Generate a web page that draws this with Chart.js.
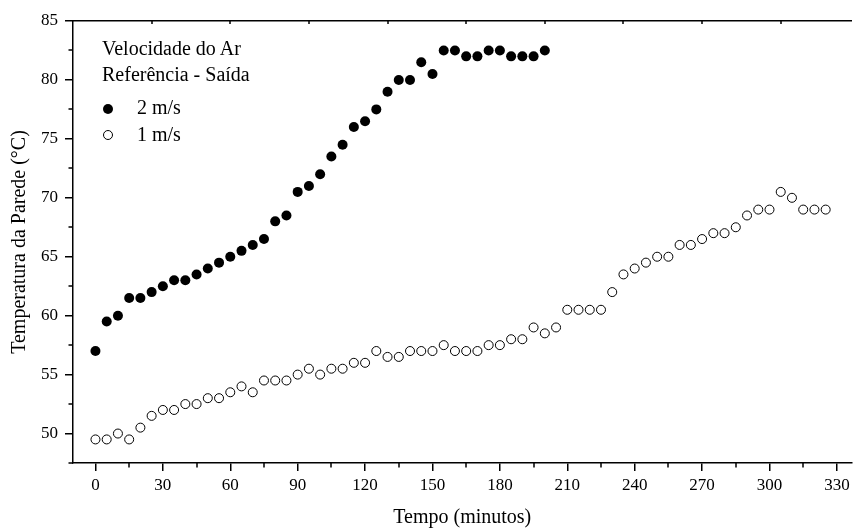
<!DOCTYPE html>
<html>
<head>
<meta charset="utf-8">
<script src="https://cdn.jsdelivr.net/npm/chart.js@4.4.1/dist/chart.umd.min.js"></script>
<style>
  html, body { margin: 0; padding: 0; background: #fff; overflow: hidden; }
  .wrap { position: relative; width: 857px; height: 528px; }
  .legend { position: absolute; left: 0; top: 0; font-family: 'Liberation Serif', 'Times New Roman', serif; font-size: 20px; line-height: 20px; color: #000; }
  .legend div { position: absolute; white-space: nowrap; }
  .dot { width: 9px; height: 9px; border-radius: 50%; box-sizing: border-box; }
</style>
</head>
<body>
<div class="wrap">
  <canvas id="chart" width="857" height="528"></canvas>
  <div class="legend" id="legend"></div>
</div>
<script>
// tempos (min) e temperaturas da parede (°C)
const time2 = [0, 5, 10, 15, 20, 25, 30, 35, 40, 45, 50, 55, 60, 65, 70, 75, 80, 85, 90, 95,
  100, 105, 110, 115, 120, 125, 130, 135, 140, 145, 150, 155, 160, 165, 170, 175, 180, 185, 190, 195, 200]
const temp2 = [57.0, 59.5, 60.0, 61.5, 61.5, 62.0, 62.5, 63.0, 63.0, 63.5, 64.0, 64.5, 65.0, 65.5, 66.0, 66.5, 68.0, 68.5, 70.5, 71.0,
  72.0, 73.5, 74.5, 76.0, 76.5, 77.5, 79.0, 80.0, 80.0, 81.5, 80.5, 82.5, 82.5, 82.0, 82.0, 82.5, 82.5, 82.0, 82.0, 82.0, 82.5]

const time1 = [0, 5, 10, 15, 20, 25, 30, 35, 40, 45, 50, 55, 60, 65, 70, 75, 80, 85, 90, 95,
  100, 105, 110, 115, 120, 125, 130, 135, 140, 145, 150, 155, 160, 165, 170, 175, 180, 185, 190, 195,
  200, 205, 210, 215, 220, 225, 230, 235, 240, 245, 250, 255, 260, 265, 270, 275, 280, 285, 290, 295,
  300, 305, 310, 315, 320, 325]
const temp1 = [49.5, 49.5, 50.0, 49.5, 50.5, 51.5, 52.0, 52.0, 52.5, 52.5, 53.0, 53.0, 53.5, 54.0, 53.5, 54.5, 54.5, 54.5, 55.0, 55.5,
  55.0, 55.5, 55.5, 56.0, 56.0, 57.0, 56.5, 56.5, 57.0, 57.0, 57.0, 57.5, 57.0, 57.0, 57.0, 57.5, 57.5, 58.0, 58.0, 59.0,
  58.5, 59.0, 60.5, 60.5, 60.5, 60.5, 62.0, 63.5, 64.0, 64.5, 65.0, 65.0, 66.0, 66.0, 66.5, 67.0, 67.0, 67.5, 68.5, 69.0,
  69.0, 70.5, 70.0, 69.0, 69.0, 69.0]

const xMinorTicks = [15, 45, 75, 105, 135, 165, 195, 225, 255, 285, 315]
const yMinorTicks = [47.5, 52.5, 57.5, 62.5, 67.5, 72.5, 77.5, 82.5]
const topTicks = [25, 60, 95, 130, 165, 200, 235, 270, 305]

const legendTitle = ['Velocidade do Ar', 'Referência - Saída']
const seriesLabels = ['2 m/s', '1 m/s']

const FONT = "'Liberation Serif', 'Times New Roman', serif"
const X_MIN = -10
const X_MAX = 336.5

// short ticks between the labelled ones, plus the inner ticks on the top edge
const minorTicks = {
  id: 'minorTicks',
  afterDraw(chart) {
    const { ctx, chartArea, scales } = chart
    ctx.save()
    ctx.strokeStyle = '#000'
    ctx.lineWidth = 1.5
    ctx.beginPath()
    xMinorTicks.forEach(v => {
      const px = Math.round(scales.x.getPixelForValue(v))
      ctx.moveTo(px, chartArea.bottom)
      ctx.lineTo(px, chartArea.bottom + 4.5)
    })
    yMinorTicks.forEach(v => {
      const py = Math.round(scales.y.getPixelForValue(v))
      ctx.moveTo(chartArea.left, py)
      ctx.lineTo(chartArea.left - 4.5, py)
    })
    topTicks.forEach(v => {
      const px = Math.round(scales.x.getPixelForValue(v))
      ctx.moveTo(px, chartArea.top)
      ctx.lineTo(px, chartArea.top + 3)
    })
    ctx.stroke()
    ctx.restore()
  }
}

const axisCommon = {
  border: { color: '#000', width: 1.5 },
  grid: { drawOnChartArea: false, drawTicks: true, tickLength: 8, color: '#000', lineWidth: 1.5 }
}

new Chart(document.getElementById('chart'), {
  type: 'scatter',
  data: {
    datasets: [
      {
        label: seriesLabels[0],
        data: time2.map((t, i) => ({ x: t, y: temp2[i] })),
        pointRadius: 5,
        pointBackgroundColor: '#000',
        pointBorderWidth: 0,
        showLine: false
      },
      {
        label: seriesLabels[1],
        data: time1.map((t, i) => ({ x: t, y: temp1[i] })),
        pointRadius: 4.5,
        pointBackgroundColor: '#fff',
        pointBorderColor: '#000',
        pointBorderWidth: 1,
        showLine: false
      }
    ]
  },
  options: {
    responsive: false,
    animation: false,
    devicePixelRatio: 1,
    layout: { padding: 0 },
    plugins: {
      legend: { display: false },
      tooltip: { enabled: false }
    },
    scales: {
      x: {
        type: 'linear',
        position: 'bottom',
        min: X_MIN,
        max: X_MAX,
        ...axisCommon,
        ticks: {
          stepSize: 30,
          includeBounds: false,
          color: '#000',
          padding: 4,
          maxRotation: 0,
          autoSkip: false,
          font: { family: FONT, size: 17 }
        },
        title: {
          display: true,
          text: 'Tempo (minutos)',
          color: '#000',
          font: { family: FONT, size: 20, lineHeight: 1 },
          padding: { top: 0, bottom: 0 }
        },
        afterFit(scale) { scale.height = 65 }
      },
      x2: {
        type: 'linear',
        position: 'top',
        min: X_MIN,
        max: X_MAX,
        border: { color: '#000', width: 1.5 },
        grid: { display: false },
        ticks: { display: false },
        afterFit(scale) { scale.height = 21 }
      },
      y: {
        type: 'linear',
        position: 'left',
        min: 47.5,
        max: 85,
        ...axisCommon,
        ticks: {
          stepSize: 5,
          includeBounds: false,
          color: '#000',
          padding: 7,
          font: { family: FONT, size: 17 }
        },
        title: {
          display: true,
          text: 'Temperatura da Parede (°C)',
          color: '#000',
          font: { family: FONT, size: 20, lineHeight: 1 },
          padding: { top: 10, bottom: 0 }
        },
        afterFit(scale) { scale.width = 73 }
      }
    }
  },
  plugins: [minorTicks]
})

// legend block inside the plot, top left
const legend = document.getElementById('legend')
const addLine = (text, left, top) => {
  const el = document.createElement('div')
  el.textContent = text
  el.style.left = left + 'px'
  el.style.top = top + 'px'
  legend.appendChild(el)
}
addLine(legendTitle[0], 102, 38)
addLine(legendTitle[1], 102, 64)

const markers = [
  { top: 104, style: 'background:#000;' },
  { top: 130, style: 'background:#fff;border:1px solid #000;' }
]
seriesLabels.forEach((lbl, i) => {
  const dot = document.createElement('div')
  dot.className = 'dot'
  dot.style.cssText += `left:103px;top:${markers[i].top}px;width:10px;height:10px;` + markers[i].style
  legend.appendChild(dot)
  addLine(lbl, 137, 97 + i * 27)
})
</script>
</body>
</html>
